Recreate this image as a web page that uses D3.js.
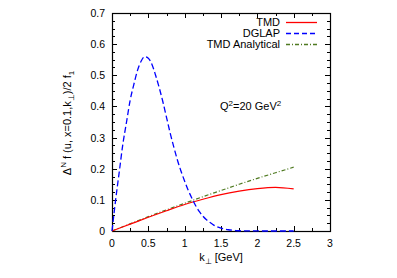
<!DOCTYPE html>
<html><head><meta charset="utf-8">
<script src="https://cdn.jsdelivr.net/npm/d3@7"></script>
<style>body{margin:0;background:#fff}svg{display:block}text{font-family:"Liberation Sans",Arial,sans-serif;fill:#000}</style>
</head><body>
<script>
const dglapK = [0,0.05,0.1,0.15,0.2,0.25,0.3,0.35,0.4,0.45,0.5,0.55,0.6,0.65,0.7,0.75,0.8,0.85,0.9,0.95,1.0,1.05,1.1,1.15,1.2,1.25,1.3,1.35,1.4,1.45,1.5,1.6,1.7,1.8,1.9,2.0,2.25,2.5];
const dglapV = [0,0.10,0.19,0.28,0.35,0.42,0.47,0.515,0.545,0.56,0.555,0.535,0.50,0.46,0.415,0.365,0.315,0.27,0.228,0.192,0.16,0.13,0.105,0.082,0.063,0.048,0.036,0.027,0.019,0.013,0.009,0.004,0.0015,0.0006,0.0002,0.0001,0,0];
const tmdK = [0,0.25,0.5,0.75,1.0,1.25,1.5,1.75,2.0,2.25,2.5];
const tmdV = [0,0.022,0.044,0.065,0.085,0.102,0.117,0.128,0.136,0.140,0.135];
const anaV = [0,0.023,0.046,0.068,0.089,0.110,0.130,0.150,0.169,0.187,0.205];
const xTicks = [0,0.5,1,1.5,2,2.5,3];
const yTicks = [0,0.1,0.2,0.3,0.4,0.5,0.6,0.7];
const legendNames = ["TMD","DGLAP","TMD Analytical"];
const colors = ["#ff0000","#0000ff","#4f7a21"];

const W=397,H=278, L=112, R=330, T=13, B=231;
const svg=d3.select("body").append("svg").attr("width",W).attr("height",H);
const x=d3.scaleLinear().domain([0,3]).range([L,R]);
const y=d3.scaleLinear().domain([0,0.7]).range([B,T]);

// ticks
const g=svg.append("g").attr("stroke","#000").attr("stroke-width",1);
const xMinor=d3.range(0,3.001,0.25);
const yMinor=d3.range(0,0.7001,0.025);
xMinor.forEach(v=>{
  const major = Math.abs(v*2-Math.round(v*2))<1e-6;
  const len = major?5:3;
  const px=Math.round(x(v))+0.5;
  g.append("line").attr("x1",px).attr("x2",px).attr("y1",B).attr("y2",B-len);
  g.append("line").attr("x1",px).attr("x2",px).attr("y1",T).attr("y2",T+len);
});
yMinor.forEach(v=>{
  const major = Math.abs(v*10-Math.round(v*10))<1e-6;
  const len = major?5:3;
  const py=Math.round(y(v))+0.5;
  g.append("line").attr("x1",L).attr("x2",L+len).attr("y1",py).attr("y2",py);
  g.append("line").attr("x1",R).attr("x2",R-len).attr("y1",py).attr("y2",py);
});
svg.append("rect").attr("x",L+0.5).attr("y",T+0.5).attr("width",R-L).attr("height",B-T)
  .attr("fill","none").attr("stroke","#000").attr("stroke-width",1.2);

// tick labels
svg.append("g").selectAll("text").data(xTicks).join("text")
  .attr("x",d=>x(d)).attr("y",B+16).attr("text-anchor","middle").attr("font-size",10.5).text(d=>d);
svg.append("g").selectAll("text").data(yTicks).join("text")
  .attr("x",L-7).attr("y",d=>y(d)+4).attr("text-anchor","end").attr("font-size",10.5).text(d=>d);

// curves
const line=d3.line().x(d=>x(d[0])).y(d=>y(d[1])).curve(d3.curveMonotoneX);
const clipG=svg.append("g");
clipG.append("path").datum(tmdK.map((k,i)=>[k,anaV[i]])).attr("d",line)
  .attr("fill","none").attr("stroke",colors[2]).attr("stroke-width",1.2).attr("stroke-dasharray","4,2,1,2");
clipG.append("path").datum(tmdK.map((k,i)=>[k,tmdV[i]])).attr("d",line)
  .attr("fill","none").attr("stroke",colors[0]).attr("stroke-width",1.2);
clipG.append("path").datum(dglapK.map((k,i)=>[k,dglapV[i]])).attr("d",line)
  .attr("fill","none").attr("stroke",colors[1]).attr("stroke-width",1.3).attr("stroke-dasharray","6,3");

// legend
const dashes=[null,"5,3","4,2,1,2"];
legendNames.forEach((n,i)=>{
  const yy=22+i*11;
  svg.append("text").attr("x",280).attr("y",yy+4).attr("text-anchor","end").attr("font-size",11).text(n);
  const l=svg.append("line").attr("x1",286).attr("x2",317).attr("y1",yy+0.5).attr("y2",yy+0.5)
    .attr("stroke",colors[i]).attr("stroke-width",1.3);
  if(dashes[i]) l.attr("stroke-dasharray",dashes[i]);
});

// Q2 annotation
const q=svg.append("text").attr("x",220).attr("y",110).attr("font-size",11);
q.append("tspan").text("Q");
q.append("tspan").attr("dy",-4).attr("font-size",8).text("2");
q.append("tspan").attr("dy",4).text("=20 GeV");
q.append("tspan").attr("dy",-4).attr("font-size",8).text("2");

// x label
const xl=svg.append("text").attr("x",221).attr("y",261).attr("text-anchor","middle").attr("font-size",11);
xl.append("tspan").text("k");
xl.append("tspan").attr("dy",3).attr("font-size",8).text("⊥");
xl.append("tspan").attr("dy",-3).text(" [GeV]");

// y label
const yl=svg.append("text").attr("transform","translate(71,123) rotate(-90)").attr("text-anchor","middle").attr("font-size",11);
yl.append("tspan").text("Δ");
yl.append("tspan").attr("dy",-5).attr("font-size",8).text("N");
yl.append("tspan").attr("dy",5).text(" f (u, x=0.1,k");
yl.append("tspan").attr("dy",3).attr("font-size",8).text("⊥");
yl.append("tspan").attr("dy",-3).text(")/2 f");
yl.append("tspan").attr("dy",3).attr("font-size",8).text("1");
</script>
</body></html>
